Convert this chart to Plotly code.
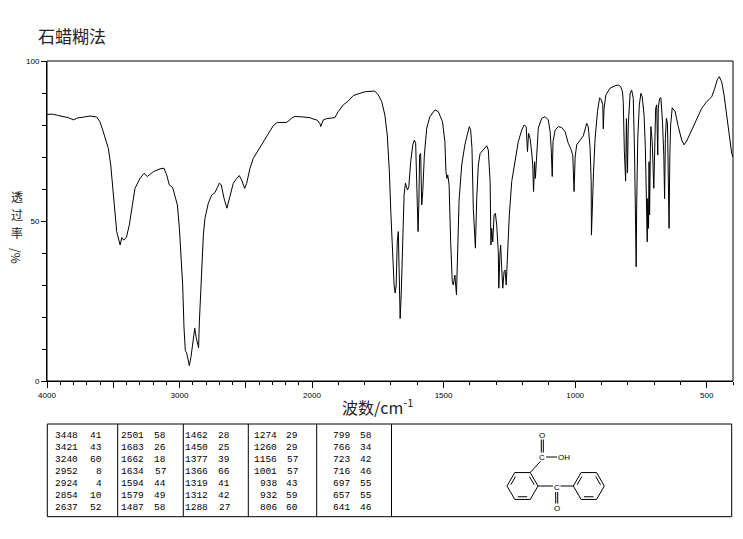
import math
import plotly.graph_objects as go

W, H = 743, 539
PAD = 8  # the page body pushes the figure 8 px right and down

# transmittance, 4000-2000 cm-1 (compressed scale)
wn_left = [4000, 3960, 3920, 3880, 3840, 3800, 3770, 3720, 3675, 3625, 3600, 3580,
           3562, 3537, 3519, 3499, 3474, 3448, 3436, 3421, 3400, 3379, 3361, 3336,
           3298, 3268, 3243, 3198, 3147, 3117, 3097, 3077, 3051, 3034, 3016, 3001,
           2989, 2976, 2966, 2956, 2946, 2934, 2926, 2913, 2896, 2885, 2875, 2865,
           2856, 2850, 2840, 2828, 2820, 2808, 2783, 2757, 2732, 2715, 2700, 2685,
           2664, 2642, 2619, 2594, 2568, 2549, 2531, 2508, 2493, 2468, 2443, 2405,
           2368, 2330, 2292, 2262, 2191, 2154, 2128, 2066, 2015, 2000]
t_left = [83.3, 83.4, 83.0, 82.6, 82.3, 81.6, 82.2, 82.5, 82.8, 82.5, 81.0, 78.5,
          75.8, 72.7, 67.5, 57.0, 46.7, 42.5, 44.8, 44.0, 45.0, 48.7, 54.0, 60.2,
          63.3, 64.9, 63.9, 65.4, 66.3, 66.5, 64.4, 61.3, 60.4, 58.1, 55.0, 47.8,
          39.4, 30.0, 16.6, 9.5, 8.8, 5.5, 4.8, 7.6, 12.3, 16.5, 13.8, 12.3,
          10.4, 18.5, 29.0, 39.4, 45.6, 50.8, 55.5, 58.1, 58.9, 60.4, 61.8, 61.3,
          57.1, 54.0, 58.1, 61.8, 63.3, 64.2, 62.8, 60.2, 61.8, 66.5, 69.6, 72.2,
          74.8, 77.4, 79.8, 80.8, 80.8, 82.1, 82.7, 82.5, 82.3, 82.0]

# 2000-400 cm-1 (expanded scale)
wn_right = [2000, 1980, 1970, 1967, 1962, 1957, 1944, 1913, 1900, 1881, 1862, 1843,
            1818, 1799, 1761, 1748, 1735, 1723, 1714, 1706, 1700, 1695, 1688, 1684,
            1680, 1676, 1672, 1669, 1665, 1661, 1655, 1650, 1645, 1637, 1632, 1625,
            1617, 1611, 1606, 1602, 1597, 1594, 1591, 1587, 1583, 1579, 1573, 1564,
            1552, 1533, 1520, 1504, 1495, 1491, 1487, 1484, 1479, 1473, 1467, 1463,
            1457, 1451, 1447, 1441, 1431, 1419, 1410, 1402, 1397, 1392, 1387, 1383,
            1379, 1374, 1368, 1361, 1349, 1336, 1330, 1323, 1320, 1317, 1313, 1308,
            1303, 1298, 1292, 1290, 1286, 1283, 1279, 1275, 1270, 1266, 1262, 1257,
            1250, 1241, 1228, 1216, 1203, 1194, 1186, 1181, 1177, 1171, 1164, 1161,
            1158, 1154, 1151, 1147, 1140, 1127, 1114, 1102, 1095, 1091, 1087, 1084,
            1076, 1064, 1051, 1038, 1026, 1017, 1009, 1004, 1000, 994, 981, 969,
            956, 950, 943, 939, 938, 934, 930, 924, 915, 907, 900, 895,
            893, 890, 883, 867, 848, 836, 827, 820, 817, 813, 808, 805,
            801, 798, 795, 791, 785, 779, 774, 771, 768, 766, 762, 756,
            750, 745, 738, 733, 730, 726, 724, 721, 719, 717, 714, 712,
            707, 704, 701, 698, 694, 690, 686, 684, 679, 674, 668, 663,
            660, 657, 653, 649, 646, 643, 640, 637, 631, 620, 608, 595,
            586, 576, 557, 538, 519, 500, 481, 469, 460, 452, 443, 434,
            424, 414, 405, 400]
t_right = [82.0, 81.5, 80.5, 79.5, 80.5, 81.6, 82.0, 82.3, 84.2, 86.3, 87.5, 89.2,
           89.9, 90.4, 90.6, 89.4, 87.3, 83.1, 76.9, 65.4, 51.9, 41.5, 30.0, 27.5,
           30.0, 43.5, 46.7, 35.2, 19.5, 26.9, 44.6, 58.1, 61.8, 59.7, 60.7, 68.5,
           73.8, 75.3, 74.3, 62.3, 46.7, 55.0, 70.6, 71.1, 55.0, 59.2, 70.6, 79.0,
           82.6, 84.7, 84.2, 81.0, 74.8, 65.4, 63.3, 64.4, 61.3, 43.5, 31.0, 30.0,
           33.1, 26.9, 39.4, 56.5, 67.5, 73.8, 76.9, 79.5, 78.4, 72.7, 54.0, 45.6,
           41.5, 57.0, 67.5, 71.1, 72.2, 73.5, 72.2, 62.3, 42.5, 47.7, 43.5, 51.9,
           52.4, 48.7, 40.4, 29.0, 39.4, 42.5, 35.2, 29.0, 34.2, 34.7, 30.0, 41.5,
           51.9, 62.3, 69.6, 74.8, 78.4, 80.0, 79.5, 71.7, 77.4, 75.8, 70.6, 67.5,
           59.2, 68.5, 63.3, 70.6, 79.0, 82.1, 82.6, 81.6, 77.9, 72.7, 63.9, 74.8,
           78.4, 79.5, 79.2, 77.9, 74.3, 72.7, 70.6, 59.2, 70.0, 73.8, 75.3, 76.6,
           80.5, 79.5, 72.7, 62.3, 45.6, 57.0, 65.4, 75.8, 84.2, 88.5, 87.8, 86.3,
           78.8, 85.2, 89.4, 91.5, 92.3, 92.5, 92.0, 90.4, 87.0, 72.0, 62.5, 82.0,
           65.0, 80.0, 85.0, 89.9, 90.9, 88.3, 70.6, 51.9, 35.7, 55.0, 75.8, 86.3,
           89.9, 88.8, 83.1, 72.7, 60.2, 43.5, 57.0, 47.7, 68.5, 51.9, 72.7, 79.5,
           74.8, 67.5, 60.2, 70.6, 85.2, 86.3, 70.6, 85.2, 88.3, 88.5, 81.0, 70.6,
           57.0, 75.8, 82.1, 80.5, 60.2, 47.7, 70.6, 80.0, 85.4, 84.2, 79.5, 75.3,
           73.8, 75.0, 78.4, 82.1, 85.2, 87.3, 88.8, 91.5, 94.1, 95.1, 93.5, 89.4,
           83.1, 75.8, 71.1, 70.0]

# peak table, column by column
peak_wn = ["3448", "3421", "3240", "2952", "2924", "2854", "2637",
           "2501", "1683", "1662", "1634", "1594", "1579", "1487",
           "1462", "1450", "1377", "1366", "1319", "1312", "1288",
           "1274", "1260", "1156", "1001", "938", "932", "806",
           "799", "766", "723", "716", "697", "657", "641"]
peak_t = ["41", "43", "60", "8", "4", "10", "52",
          "58", "26", "18", "57", "44", "49", "58",
          "28", "25", "39", "66", "41", "42", "27",
          "29", "29", "57", "57", "43", "59", "60",
          "58", "34", "42", "46", "55", "55", "46"]

left_ticks = [4000, 3000, 2000]
left_half_ticks = [3500, 2500]
right_ticks = [1500, 1000, 500]
y_ticks = [0, 50, 100]


def px(x):
    return (x - PAD) / (W - PAD)


def py(y):
    return 1 - (y - PAD) / (H - PAD)


fig = go.Figure()
fig.add_trace(go.Scatter(x=wn_left, y=t_left, mode="lines", xaxis="x", yaxis="y",
                         line=dict(color="black", width=1), hoverinfo="skip"))
fig.add_trace(go.Scatter(x=wn_right, y=t_right, mode="lines", xaxis="x2", yaxis="y",
                         line=dict(color="black", width=1), hoverinfo="skip"))

tickfont = dict(family="Liberation Sans", size=8, color="black")
x_split = 312
axis_common = dict(showgrid=False, zeroline=False, showline=True, linecolor="black",
                   linewidth=1, ticks="outside", ticklen=6, tickcolor="black",
                   tickfont=tickfont, automargin=False, fixedrange=True)

fig.update_layout(
    width=W - PAD, height=H - PAD,
    margin=dict(l=0, r=0, t=0, b=0),
    paper_bgcolor="white", plot_bgcolor="white",
    showlegend=False,
    xaxis=dict(domain=[px(47), px(x_split)], range=[4000, 2000], anchor="y",
               tickmode="array", tickvals=left_ticks,
               minor=dict(tickmode="array", tickvals=list(range(2000, 4001, 100)),
                          ticks="outside", ticklen=3, tickcolor="black"),
               **axis_common),
    # long unlabeled ticks at 3500 and 2500
    xaxis3=dict(domain=[px(47), px(x_split)], range=[4000, 2000], anchor="y",
                overlaying="x", tickmode="array", tickvals=left_half_ticks,
                showticklabels=False, showgrid=False, zeroline=False, showline=False,
                ticks="outside", ticklen=6, tickcolor="black", fixedrange=True),
    xaxis2=dict(domain=[px(x_split), px(733)], range=[2000, 400], anchor="y",
                tickmode="array", tickvals=right_ticks,
                minor=dict(tickmode="array", tickvals=list(range(400, 2001, 100)),
                           ticks="outside", ticklen=3, tickcolor="black"),
                **axis_common),
    yaxis=dict(domain=[py(381), py(61)], range=[0, 100], anchor="x",
               tickmode="array", tickvals=y_ticks,
               minor=dict(tickmode="array", tickvals=list(range(0, 101, 10)),
                          ticks="outside", ticklen=4, tickcolor="black"),
               showgrid=False, zeroline=False, showline=True, linecolor="black",
               ticks="outside", ticklen=5, tickcolor="black", tickfont=tickfont,
               automargin=False, fixedrange=True),
)
# empty trace so the overlay axis gets drawn
fig.add_trace(go.Scatter(x=[], y=[], xaxis="x3", yaxis="y", hoverinfo="skip"))

shapes = []
annotations = []

# frame of the spectrum
shapes.append(dict(type="rect", xref="paper", yref="paper",
                   x0=px(47), x1=px(733), y0=py(381), y1=py(61),
                   line=dict(color="black", width=1)))

# titles
cjk = "Noto Sans CJK SC"
annotations.append(dict(text="石蜡糊法", x=px(36), y=py(36), xref="paper", yref="paper",
                        xanchor="left", yanchor="middle", showarrow=False,
                        font=dict(family=cjk, size=17, color="#222")))
annotations.append(dict(text="波数/cm<sup>-1</sup>", x=px(377), y=py(406),
                        xref="paper", yref="paper", xanchor="center", yanchor="middle",
                        showarrow=False, font=dict(family=cjk, size=16, color="#222")))
# vertical y title: upright characters stacked, then "/%" turned sideways
for i, ch in enumerate("透过率"):
    annotations.append(dict(text=ch, x=px(17), y=py(197 + 17.6 * i), xref="paper",
                            yref="paper", xanchor="center", yanchor="middle",
                            showarrow=False, font=dict(family=cjk, size=12, color="#222")))
annotations.append(dict(text="/%", x=px(17), y=py(256), xref="paper", yref="paper",
                        xanchor="center", yanchor="middle", textangle=90, showarrow=False,
                        font=dict(family=cjk, size=12, color="#222")))

# peak table
tab_top, tab_bot = 424, 516.7
shapes.append(dict(type="rect", xref="paper", yref="paper",
                   x0=px(47.3), x1=px(731.7), y0=py(tab_bot), y1=py(tab_top),
                   line=dict(color="black", width=1)))
for xs in [117.7, 183.3, 248.3, 316.7, 391.5]:
    shapes.append(dict(type="line", xref="paper", yref="paper",
                       x0=px(xs), x1=px(xs), y0=py(tab_bot), y1=py(tab_top),
                       line=dict(color="black", width=1)))

wn_right_edge = [79.5, 146, 210, 279, 352]
t_right_edge = [103.5, 167.5, 232, 300, 373.5]
tabfont = dict(family="Liberation Mono", size=9.5, color="black")
for k in range(len(peak_wn)):
    col, row = divmod(k, 7)
    yy = py(435 + 12.15 * row)
    annotations.append(dict(text=peak_wn[k], x=px(wn_right_edge[col]), y=yy,
                            xref="paper", yref="paper", xanchor="right",
                            yanchor="middle", showarrow=False, font=tabfont))
    annotations.append(dict(text=peak_t[k], x=px(t_right_edge[col]), y=yy,
                            xref="paper", yref="paper", xanchor="right",
                            yanchor="middle", showarrow=False, font=tabfont))


# structure: 2-benzoylbenzoic acid
def line(x0, y0, x1, y1):
    shapes.append(dict(type="line", xref="paper", yref="paper",
                       x0=px(x0), y0=py(y0), x1=px(x1), y1=py(y1),
                       line=dict(color="black", width=1)))


def ring(cx, cy, r):
    pts = [(cx + r * math.cos(math.radians(a)), cy - r * math.sin(math.radians(a)))
           for a in range(0, 360, 60)]
    for i in range(6):
        (xa, ya), (xb, yb) = pts[i], pts[(i + 1) % 6]
        line(xa, ya, xb, yb)
        if i % 2 == 0:
            # inner line of the double bond
            ia = (xa + (cx - xa) * 0.2, ya + (cy - ya) * 0.2)
            ib = (xb + (cx - xb) * 0.2, yb + (cy - yb) * 0.2)
            sa = (ia[0] + (ib[0] - ia[0]) * 0.12, ia[1] + (ib[1] - ia[1]) * 0.12)
            sb = (ib[0] + (ia[0] - ib[0]) * 0.12, ib[1] + (ia[1] - ib[1]) * 0.12)
            line(sa[0], sa[1], sb[0], sb[1])
    return pts


r = 15.5
lp = ring(522.5, 486, r)
rp = ring(588.8, 486, r)
atomfont = dict(family="Liberation Sans", size=8, color="black")


def atom(txt, x, y):
    annotations.append(dict(text=txt, x=px(x), y=py(y), xref="paper", yref="paper",
                            xanchor="center", yanchor="middle", showarrow=False,
                            font=atomfont))


# ketone
atom("C", 556.7, 487.5)
line(lp[0][0], lp[0][1], 553, 486)
line(560.5, 486, rp[3][0], rp[3][1])
line(555.7, 492, 555.7, 503.5)
line(557.7, 492, 557.7, 503.5)
atom("O", 556.7, 508.5)
# carboxylic acid
atom("C", 542.3, 457)
line(lp[1][0], lp[1][1], 540.3, 461.5)
line(546, 457, 557, 457)
atom("OH", 564, 457.5)
line(541.3, 439.5, 541.3, 452.5)
line(543.3, 439.5, 543.3, 452.5)
atom("O", 542.3, 435)

fig.update_layout(shapes=shapes, annotations=annotations)
fig.write_html("out.html")
